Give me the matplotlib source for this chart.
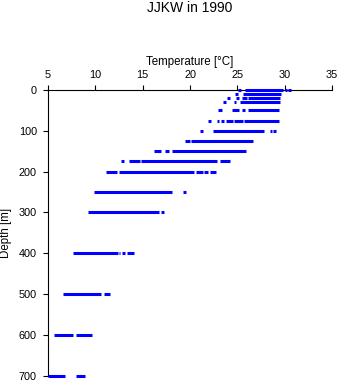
"""Temperature profile scatter: JJKW in 1990."""

import matplotlib
matplotlib.use("Agg")
import matplotlib.pyplot as plt

plt.rcParams["font.family"] = ["Liberation Sans", "DejaVu Sans"]

# sampled depths [m]
depths = [0, 10, 20, 30, 50, 75, 100, 125, 150, 175, 200, 250, 300, 400, 500, 600, 700]

# temperature ranges [degC] covered by the observations at each depth (start, end of each run)
band_lo = [
    [25.1, 25.8, 30.0, 30.4],
    [24.8, 25.6],
    [23.95, 24.9, 25.45, 26.15],
    [23.5, 24.6, 25.3],
    [23.0, 24.4, 25.5, 26.1],
    [21.95, 22.8, 23.3, 23.75, 24.6, 25.75],
    [21.1, 22.45, 28.4, 28.8],
    [19.5, 20.15],
    [16.15, 17.4, 18.05],
    [12.75, 13.6, 14.85, 23.2],
    [11.15, 12.45, 20.65, 21.5, 22.15],
    [9.9, 19.25],
    [9.2, 16.95],
    [7.65, 12.45, 12.8, 13.35],
    [6.6, 10.95],
    [5.65, 8.0],
    [5.0, 8.0],
]
band_hi = [
    [25.35, 29.85, 30.25, 30.65],
    [25.1, 29.65],
    [24.25, 25.2, 26.05, 29.55],
    [23.85, 24.9, 29.55],
    [23.4, 25.2, 25.85, 29.45],
    [22.25, 23.1, 23.6, 24.5, 25.65, 29.35],
    [21.4, 27.85, 28.7, 29.1],
    [20.05, 26.65],
    [16.95, 17.8, 25.9],
    [13.05, 14.75, 22.9, 24.25],
    [12.3, 20.45, 21.4, 21.85, 22.7],
    [18.1, 19.55],
    [16.7, 17.3],
    [12.35, 12.65, 13.15, 14.1],
    [10.65, 11.5],
    [7.65, 9.65],
    [6.75, 8.95],
]

fig = plt.figure(figsize=(3.41, 3.84), dpi=100)
ax = fig.add_axes([48 / 341, 1 - 375.5 / 384, 284 / 341, 285.5 / 384])

for depth, lo, hi in zip(depths, band_lo, band_hi):
    ax.hlines([depth] * len(lo), lo, hi, color="#0000ff", linewidth=2.2,
              capstyle="butt", zorder=3, clip_on=False)

ax.set_xlim(5, 35)
ax.set_ylim(700, 0)
ax.xaxis.tick_top()
ax.xaxis.set_label_position("top")
ax.set_xticks([5, 10, 15, 20, 25, 30, 35])
ax.set_yticks([0, 100, 200, 300, 400, 500, 600, 700])
ax.tick_params(axis="x", length=3.8, width=0.8, pad=3.2, labelsize=7.8)
ax.tick_params(axis="y", length=3.6, width=0.8, pad=4.4, labelsize=7.8)
ax.set_xlabel("Temperature [°C]", fontsize=8.3, labelpad=4)
ax.set_ylabel("Depth [m]", fontsize=8.3, labelpad=5)

for side in ("right", "bottom"):
    ax.spines[side].set_visible(False)
for side in ("left", "top"):
    ax.spines[side].set_linewidth(0.8)

fig.text(0.557, 1 - 8 / 384, "JJKW in 1990", ha="center", va="center", fontsize=10)

fig.savefig("out.png", dpi=100)
plt.close(fig)
